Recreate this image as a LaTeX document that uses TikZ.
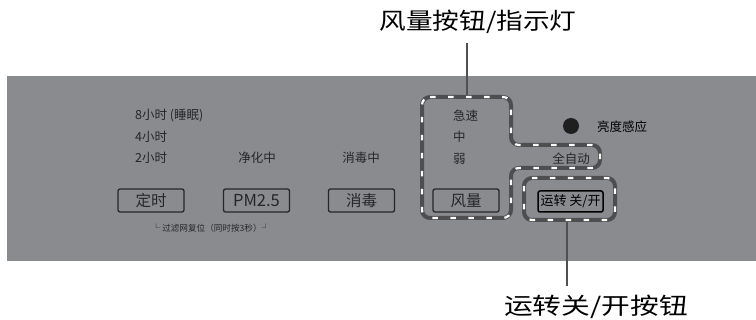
\documentclass[tikz,border=0pt]{standalone}
\usepackage{fontspec}
\setmainfont{Noto Sans CJK SC}
\usepackage{graphicx}
\definecolor{panel}{RGB}{138,139,143}
\definecolor{ink}{RGB}{38,38,40}
\definecolor{dashgray}{RGB}{78,78,80}
\definecolor{lead}{RGB}{80,80,80}
\begin{document}
\begin{tikzpicture}[x=1pt,y=-1pt,
  lbl/.style={font=\fontsize{12.5}{12.5}\selectfont, text=ink, inner sep=0pt},
  btn/.style={draw=ink, line width=1.3pt, rounded corners=2pt, minimum width=66pt, minimum height=23pt, inner sep=0pt, text=ink, font=\fontsize{15.5}{15.5}\selectfont},
  outerdash/.style={draw=dashgray, line width=4pt, rounded corners=8pt},
  innerdash/.style={draw=white, line width=2.2pt, dash pattern=on 5.5pt off 12.5pt, rounded corners=8pt},
  leader/.style={draw=lead, line width=1.3pt},
  callout/.style={font=\fontsize{23}{23}\selectfont, text=black, inner sep=0pt}]
\useasboundingbox (0,0) rectangle (756,320);
\fill[panel] (7,76) rectangle (756,261);

% callouts and leaders
\node[callout] (t1) at (478,22) {\scalebox{1.16}[1]{风量按钮/指示灯}};
\node[callout] (t2) at (596,307) {\scalebox{1.25}[1]{运转关/开按钮}};
\coordinate (ltop) at (467,43);
\coordinate (fanTop) at (467,97);
\coordinate (runBot) at (567,220);
\coordinate (lbot) at (567,286);
\draw[leader] (ltop) -- (fanTop);
\draw[leader] (runBot) -- (lbot);

% dashed outlines
\draw[outerdash] (422,97) -- (511,97) -- (511,145) -- (600,145) -- (600,168) -- (511,168) -- (511,218) -- (422,218) -- cycle;
\draw[innerdash] (422,97) -- (511,97) -- (511,145) -- (600,145) -- (600,168) -- (511,168) -- (511,218) -- (422,218) -- cycle;
\draw[outerdash] (524,178) rectangle (615,220);
\draw[innerdash] (524,178) rectangle (615,220);

% timer labels
\node[lbl, anchor=west] (h8) at (135,116) {8小时 (睡眠)};
\node[lbl, anchor=west] (h4) at (135,137) {4小时};
\node[lbl, anchor=west] (h2) at (135,158) {2小时};
\node[lbl] (jhz) at (257,158) {净化中};
\node[lbl] (xdz) at (361,158) {消毒中};

% buttons
\node[btn] (ds) at (151,200.5) {定时};
\node[btn, font=\fontsize{16.5}{16.5}\selectfont] (pm) at (256.5,200.5) {PM2.5};
\node[btn] (xd) at (361.5,200.5) {消毒};
\node[btn] (fl) at (466,200.5) {风量};
\node[btn, draw=black, line width=1.5pt, minimum width=65pt, minimum height=21pt, text=black, font=\fontsize{13}{13}\selectfont] (run) at (570.5,201.5) {运转 关/开};

\node[text=ink, inner sep=0pt, font=\fontsize{8.6}{8.6}\selectfont] (flt) at (211,228) {└ 过滤网复位（同时按3秒）┘};

% fan speed labels
\node[lbl, anchor=west] (js) at (453,116) {急速};
\node[lbl, anchor=west] (zh) at (453,137) {中};
\node[lbl, anchor=west] (ro) at (453,159) {弱};
\node[lbl, anchor=east] (qzd) at (590,159) {全自动};

% light sensor
\node[circle, fill=black!88, minimum size=16pt, inner sep=0pt] (dot) at (571,126) {};
\node[lbl, text=black, anchor=west] (ldg) at (597,127) {亮度感应};
\end{tikzpicture}
\end{document}
